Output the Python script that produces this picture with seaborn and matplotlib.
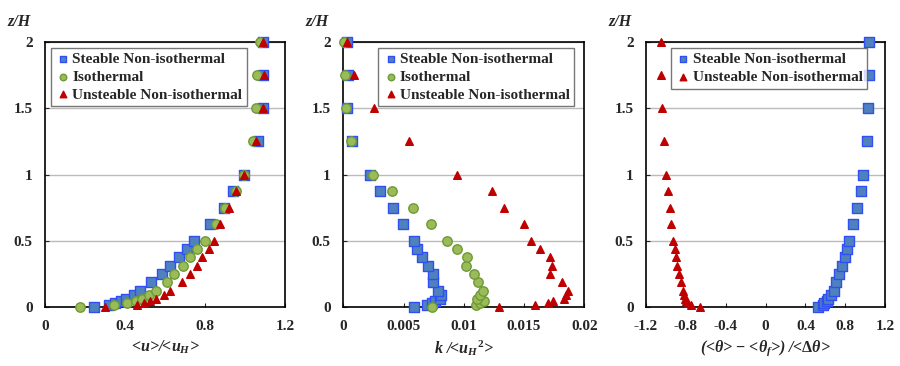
import numpy as np
import pandas as pd
import matplotlib
matplotlib.use('Agg')
import matplotlib.pyplot as plt
import seaborn as sns

# vertical levels (z/H), shared by every profile
z = [0, 0.015625, 0.03125, 0.046875, 0.0625, 0.09375, 0.125, 0.1875, 0.25,
     0.3125, 0.375, 0.4375, 0.5, 0.625, 0.75, 0.875, 1.0, 1.25, 1.5, 1.75, 2.0]

# panel 1: <u>/<uH>
u_stable = [0.247, 0.322, 0.35, 0.378, 0.407, 0.445, 0.473, 0.528, 0.583,
            0.625, 0.67, 0.708, 0.747, 0.823, 0.893, 0.94, 0.995, 1.063, 1.088, 1.092, 1.092]
u_iso = [0.175, 0.345, 0.408, 0.455, 0.483, 0.52, 0.555, 0.612, 0.645,
         0.688, 0.725, 0.762, 0.798, 0.853, 0.902, 0.955, 0.995, 1.038, 1.053, 1.062, 1.077]
u_unstable = [0.298, 0.462, 0.497, 0.525, 0.553, 0.593, 0.627, 0.687, 0.725,
              0.758, 0.783, 0.818, 0.843, 0.873, 0.918, 0.955, 0.997, 1.055, 1.088, 1.095, 1.092]

# panel 2: k/<uH^2>
k_stable = [0.0059, 0.00692, 0.0074, 0.00758, 0.00802, 0.00808, 0.00789, 0.00742, 0.00748,
            0.00703, 0.00653, 0.00611, 0.00584, 0.00492, 0.00415, 0.00307, 0.00219,
            0.00075, 0.0003, 0.00036, 0.00028]
k_iso = [0.00735, 0.011, 0.01134, 0.01168, 0.01112, 0.01134, 0.01162, 0.01115, 0.01084,
         0.01015, 0.01026, 0.0094, 0.00858, 0.0073, 0.00581, 0.00407, 0.00243,
         0.00064, 0.00025, 0.0001, 0.00006]
k_unstable = [0.01289, 0.01593, 0.01696, 0.01743, 0.01831, 0.01848, 0.01862, 0.01812, 0.01715,
              0.01729, 0.01718, 0.01635, 0.01555, 0.01497, 0.01333, 0.01237, 0.00943,
              0.00548, 0.00254, 0.00089, 0.0003]

# panel 3: (<theta>-<theta_f>)/<dtheta>
t_stable = [0.531, 0.575, 0.588, 0.615, 0.632, 0.662, 0.689, 0.712, 0.739,
            0.772, 0.799, 0.822, 0.842, 0.882, 0.919, 0.956, 0.979, 1.019, 1.033, 1.036, 1.043]
t_unstable = [-0.658, -0.749, -0.775, -0.795, -0.805, -0.815, -0.832, -0.852, -0.872,
              -0.889, -0.899, -0.909, -0.926, -0.946, -0.963, -0.976, -0.996, -1.023, -1.04, -1.05, -1.053]

names = ['Steable Non-isothermal', 'Isothermal', 'Unsteable Non-isothermal']
styles = {
    'Steable Non-isothermal': dict(marker='s', color='#4F81BD', edgecolor='#2F4FF5', s=44),
    'Isothermal': dict(marker='o', color='#9BBB59', edgecolor='#6E9A36', s=46),
    'Unsteable Non-isothermal': dict(marker='^', color='#C00000', edgecolor='#C00000', s=30),
}

sns.set_style('ticks')
plt.rcParams['font.family'] = ['Liberation Serif', 'DejaVu Serif']
plt.rcParams['font.weight'] = 'bold'
plt.rcParams['axes.unicode_minus'] = False
plt.rcParams['mathtext.fontset'] = 'custom'
plt.rcParams['mathtext.rm'] = 'Liberation Serif:bold'
plt.rcParams['mathtext.it'] = 'Liberation Serif:italic:bold'
plt.rcParams['mathtext.bf'] = 'Liberation Serif:bold'

fig = plt.figure(figsize=(9, 3.66), dpi=100)
ax1 = fig.add_axes([0.05, 0.161, 0.2667, 0.724])
ax2 = fig.add_axes([0.3815, 0.161, 0.2677, 0.724])
ax3 = fig.add_axes([0.7178, 0.161, 0.2656, 0.724])

panels = [
    (ax1, [u_stable, u_iso, u_unstable], names, (0, 1.2), [0, 0.4, 0.8, 1.2],
     ['0', '0.4', '0.8', '1.2'], r'<$u$>/<$u_H$>', (0.0, 1.0)),
    (ax2, [k_stable, k_iso, k_unstable], names, (0, 0.02), [0, 0.005, 0.01, 0.015, 0.02],
     ['0', '0.005', '0.01', '0.015', '0.02'], r'$k$ /<$u_H$$^2$>', (0.12, 1.0)),
    (ax3, [t_stable, t_unstable], [names[0], names[2]], (-1.2, 1.2),
     [-1.2, -0.8, -0.4, 0, 0.4, 0.8, 1.2],
     ['-1.2', '-0.8', '-0.4', '0', '0.4', '0.8', '1.2'],
     r'(<$\theta$> $-$ <$\theta_f$>) /<$\Delta\theta$>', (0.08, 1.0)),
]

for ax, series, labels, xlim, xt, xtl, xlab, leg_anchor in panels:
    for vals, name in zip(series, labels):
        df = pd.DataFrame({'x': vals, 'z': z})
        st = styles[name]
        sns.scatterplot(data=df, x='x', y='z', ax=ax, marker=st['marker'], color=st['color'],
                        edgecolor=st['edgecolor'], linewidth=1.0, s=st['s'],
                        label=name, clip_on=False, zorder=3)
    ax.set_xlim(*xlim)
    ax.set_ylim(0, 2)
    ax.set_xticks(xt)
    ax.set_xticklabels(xtl)
    ax.set_yticks([0, 0.5, 1, 1.5, 2])
    ax.set_yticklabels(['0', '0.5', '1', '1.5', '2'])
    ax.yaxis.grid(True, color='#BBBBBB', linewidth=1.0)
    ax.set_axisbelow(True)
    ax.tick_params(direction='in', length=3, labelsize=11, width=0.8)
    ax.tick_params(axis='x', pad=9)
    ax.tick_params(axis='y', pad=9)
    for lab in ax.get_xticklabels() + ax.get_yticklabels():
        lab.set_fontweight('bold')
    for sp in ax.spines.values():
        sp.set_visible(True)
        sp.set_color('black')
        sp.set_linewidth(1.2)
    ax.set_xlabel(xlab, fontsize=11.5, fontweight='bold', fontstyle='italic', labelpad=4)
    ax.set_ylabel('')
    ax.text(-0.11, 1.045, 'z/H', transform=ax.transAxes, fontsize=11.5,
            fontweight='bold', fontstyle='italic', ha='center', va='bottom')
    leg = ax.legend(loc='upper left', bbox_to_anchor=leg_anchor,
                    frameon=True, fancybox=False, borderpad=0.3, labelspacing=0.25,
                    handletextpad=0.1, handlelength=1.0, borderaxespad=0.4,
                    prop={'family': 'Liberation Serif', 'weight': 'bold', 'size': 11})
    leg.get_frame().set_edgecolor('#555555')
    leg.get_frame().set_linewidth(1.0)
    for h in leg.legend_handles:
        h.set_sizes([22])

fig.savefig('out.png', dpi=100)
